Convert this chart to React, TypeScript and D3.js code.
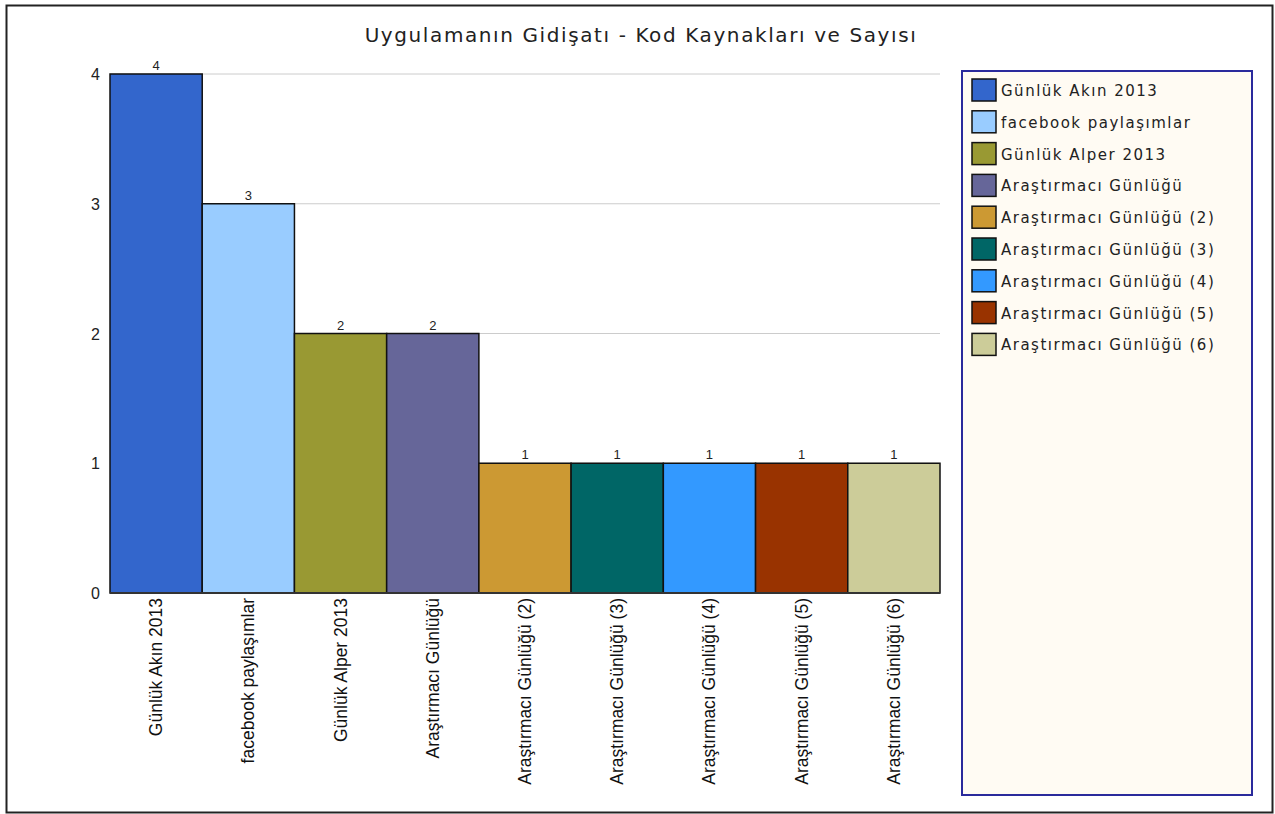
import React from "react";
import * as d3 from "d3";

const categories = [
  "Günlük Akın 2013",
  "facebook paylaşımlar",
  "Günlük Alper 2013",
  "Araştırmacı Günlüğü",
  "Araştırmacı Günlüğü (2)",
  "Araştırmacı Günlüğü (3)",
  "Araştırmacı Günlüğü (4)",
  "Araştırmacı Günlüğü (5)",
  "Araştırmacı Günlüğü (6)",
];
const values = [4, 3, 2, 2, 1, 1, 1, 1, 1];
const colors = [
  "#3366CC",
  "#99CCFF",
  "#999933",
  "#666699",
  "#CC9933",
  "#006666",
  "#3399FF",
  "#993300",
  "#CCCC99",
];
const yTicks = [0, 1, 2, 3, 4];
const title = "Uygulamanın Gidişatı - Kod Kaynakları ve Sayısı";

export default function App() {
  const W = 1275;
  const H = 814;
  const left = 110;
  const right = 940;
  const top = 74;
  const bottom = 593;

  const x = d3.scaleBand<string>().domain(categories).range([left, right]).padding(0);
  const y = d3.scaleLinear().domain([0, 4]).range([bottom, top]);

  const legendX = 962;
  const legendY = 71;
  const legendW = 290;
  const legendH = 724;
  const rowH = 31.8;

  return (
    <svg
      width={W}
      height={H}
      style={{ position: "absolute", left: 0, top: 0, background: "#fff" }}
    >
      <rect x={6.5} y={5.5} width={1266} height={807} fill="#fff" stroke="#222" strokeWidth={2} />
      <text
        x={641}
        y={42}
        textAnchor="middle"
        fontFamily="DejaVu Sans"
        fontSize={20}
        letterSpacing={1.6}
        fill="#222"
      >
        {title}
      </text>

      {yTicks.map((t) => (
        <g key={t}>
          {t > 0 && (
            <line x1={left} x2={right} y1={y(t)} y2={y(t)} stroke="#cccccc" strokeWidth={1} />
          )}
          <text
            x={100}
            y={y(t) + 6}
            textAnchor="end"
            fontFamily="Liberation Sans, Arial"
            fontSize={16}
            fill="#222"
          >
            {t}
          </text>
        </g>
      ))}

      {categories.map((c, i) => (
        <g key={c}>
          <rect
            x={x(c)!}
            y={y(values[i])}
            width={x.bandwidth()}
            height={bottom - y(values[i])}
            fill={colors[i]}
            stroke="#111"
            strokeWidth={1.5}
          />
          <text
            x={x(c)! + x.bandwidth() / 2}
            y={y(values[i]) - 4}
            textAnchor="middle"
            fontFamily="Liberation Sans, Arial"
            fontSize={13}
            fill="#222"
          >
            {values[i]}
          </text>
          <text
            transform={`translate(${x(c)! + x.bandwidth() / 2 + 6},${bottom + 5}) rotate(-90)`}
            textAnchor="end"
            fontFamily="Liberation Sans, Arial"
            fontSize={17.5}
            fill="#111"
          >
            {c}
          </text>
        </g>
      ))}
      <line x1={left} x2={right} y1={bottom} y2={bottom} stroke="#333" strokeWidth={2} />

      <rect
        x={legendX}
        y={legendY}
        width={legendW}
        height={legendH}
        fill="#FFFBF3"
        stroke="#2A2A9C"
        strokeWidth={2}
      />
      {categories.map((c, i) => (
        <g key={"l" + c}>
          <rect
            x={972}
            y={79 + i * rowH}
            width={24}
            height={22}
            fill={colors[i]}
            stroke="#111"
            strokeWidth={1.5}
          />
          <text
            x={1001}
            y={96 + i * rowH}
            fontFamily="DejaVu Sans"
            fontSize={15}
            letterSpacing={1.5}
            fill="#222"
          >
            {c}
          </text>
        </g>
      ))}
    </svg>
  );
}
